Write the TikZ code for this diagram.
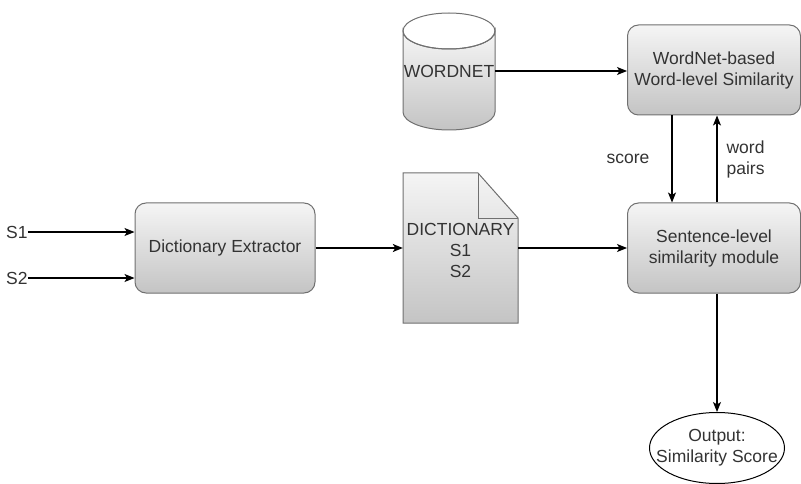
\documentclass[tikz,border=0pt]{standalone}
\usepackage{fontspec}
\setmainfont{Liberation Sans}
\usetikzlibrary{arrows.meta,shapes.geometric}

\definecolor{ink}{HTML}{333333}
\definecolor{edge}{HTML}{707070}
\definecolor{shadetop}{HTML}{F5F5F5}
\definecolor{shadebot}{HTML}{C4C4C4}

\tikzset{
  txt/.style={text=ink, font=\fontsize{17.5}{21}\selectfont, align=center, inner sep=0pt},
  proc/.style={draw=edge, line width=1pt, rounded corners=11pt,
    top color=shadetop, bottom color=shadebot, txt},
  flow/.style={line width=1.2pt, draw=black,
    -{Stealth[length=10pt,width=8pt,inset=2.5pt]}},
  skin/.style={draw=edge, line width=1pt, top color=shadetop, bottom color=shadebot}
}

\begin{document}
\begin{tikzpicture}[x=1pt, y=-1pt]
\useasboundingbox (0,0) rectangle (801,484);

% processing boxes
\node[proc, minimum width=180, minimum height=90] (extract) at (225,248) {Dictionary Extractor};
\node[proc, minimum width=173, minimum height=90] (wnsim) at (714,70) {WordNet-based\\Word-level Similarity};
\node[proc, minimum width=173, minimum height=90] (sent) at (714,248) {Sentence-level\\similarity module};

% WORDNET database drum
\path[skin] (403,31) -- (403,112)
  arc[start angle=180, end angle=0, x radius=46, y radius=18]
  -- (495,31)
  arc[start angle=0, end angle=180, x radius=46, y radius=18] -- cycle;
\draw[edge, line width=1pt] (449,31) ellipse[x radius=46, y radius=18];
\node[txt, minimum width=92, minimum height=117] (wordnet) at (449,71) {WORDNET};

% dictionary document with folded corner
\path[skin] (403,173) -- (478,173) -- (518,218) -- (518,323) -- (403,323) -- cycle;
\draw[edge, line width=1pt] (478,173) -- (478,218) -- (518,218);
\node[txt, minimum width=115, minimum height=150] (dict) at (460.5,248) {};
\node[txt] (dicttext) at (460.5,250) {DICTIONARY\\S1\\S2};

% output terminal
\node[ellipse, draw=black, line width=1pt, fill=white, minimum width=135, minimum height=71, inner sep=0pt] (out) at (717,448) {};
\node[txt] (outtext) at (out.center) {Output:\\Similarity Score};

% inputs
\node[txt, anchor=west] (s1) at (6,232) {S1};
\node[txt, anchor=west] (s2) at (6,278) {S2};

% connectors
\draw[flow] (s1.east) -- (extract.west |- s1.east);
\draw[flow] (s2.east) -- (extract.west |- s2.east);
\draw[flow] (extract.east) -- (dict.west);
\draw[flow] (dict.east) -- (sent.west);
\draw[flow] (wordnet.east) -- (wnsim.west |- wordnet.east);
\coordinate (scoretop) at (672,0);
\coordinate (pairsx) at (717,0);
\draw[flow] (wnsim.south -| scoretop) -- (sent.north -| scoretop)
  node[txt, midway, left=22pt] {score};
\draw[flow] (sent.north -| pairsx) -- (wnsim.south -| pairsx)
  node[txt, midway, right=9pt, align=left] {word\\pairs};
\draw[flow] (sent.south -| pairsx) -- (out.north);
\end{tikzpicture}
\end{document}
